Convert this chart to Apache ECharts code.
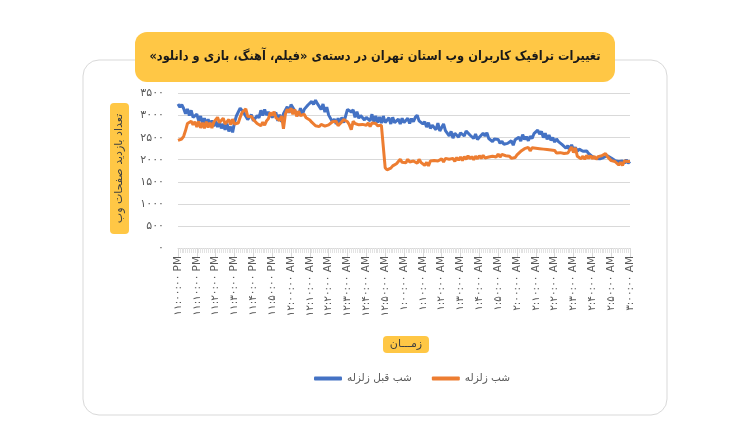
<!DOCTYPE html>
<html>
<head>
<meta charset="utf-8">
<script src="https://cdn.jsdelivr.net/npm/echarts@6/dist/echarts.min.js"></script>
<style>
html,body{margin:0;padding:0;background:#fff;}
#c{width:750px;height:430px;}
</style>
</head>
<body>
<div id="c"></div>
<script>
// ---- data ----
var seriesNames = ['شب قبل زلزله', 'شب زلزله'];
var beforeNight = [
3260,3190,3250,3160,3040,3150,3000,3120,2960,2990,
3030,2880,2990,2830,2940,2790,2920,2780,2890,2760,
2880,2740,2850,2710,2810,2680,2820,2640,2750,2620,
2840,2990,3010,3170,3190,3060,3060,2910,2930,3020,
2880,2870,3000,2950,3120,3000,3140,3010,3080,3110,
2960,2950,3070,2880,3020,2860,3040,3040,3200,3060,
3250,3240,3110,3140,3000,3170,3020,3140,3150,3240,
3250,3320,3250,3350,3270,3290,3140,3260,3080,3190,
3010,3040,2860,2920,2810,2940,2820,2960,2840,2990,
3140,3160,3080,3130,2960,3090,2940,3000,3040,2900,
2960,3000,2880,3030,2860,2990,2840,2970,2830,2990,
2840,2830,2950,2810,2960,2840,2810,2920,2810,2940,
2840,2870,2940,2820,2930,2860,2960,3010,2880,2910,
2810,2860,2740,2840,2710,2780,2820,2680,2830,2650,
2660,2810,2660,2660,2540,2640,2490,2600,2630,2510,
2610,2650,2540,2650,2670,2560,2590,2480,2580,2460,
2510,2490,2600,2540,2610,2480,2510,2410,2470,2430,
2460,2370,2420,2350,2380,2370,2340,2430,2330,2450,
2420,2510,2420,2570,2460,2520,2430,2530,2480,2590,
2570,2670,2580,2640,2500,2600,2460,2560,2440,2500,
2400,2470,2410,2430,2340,2370,2260,2320,2210,2340,
2220,2280,2190,2240,2240,2190,2180,2200,2140,2120,
2070,2060,2030,2050,2020,2030,2050,2080,2090,2090,
2040,2010,1980,1990,1960,1970,1970,1920,2000,1920,
1960
];
var quakeNight = [
2440,2460,2470,2530,2660,2820,2810,2870,2790,2860,
2740,2870,2720,2840,2710,2860,2730,2840,2720,2850,
2820,2960,2840,2830,2940,2810,2810,2910,2790,2920,
2810,2810,2830,2960,3070,3100,3150,2980,2970,2980,
2910,2930,2820,2860,2770,2850,2780,2880,2930,3070,
3000,3090,2950,2980,2890,2990,2700,3030,3140,3080,
3170,3030,3140,2980,3100,3000,3000,3030,2950,2920,
2900,2850,2820,2770,2810,2750,2800,2790,2760,2800,
2790,2790,2860,2820,2870,2770,2760,2860,2910,2870,
2860,2790,2680,2870,2820,2830,2790,2810,2800,2820,
2780,2830,2750,2830,2790,2820,2770,2810,2780,2820,
1820,1770,1810,1810,1860,1870,1910,1920,2010,1940,
1950,1930,2010,1950,1980,1970,2000,1920,2010,1940,
1920,1870,1940,1860,1970,1950,1980,1970,1970,1960,
2020,1950,2030,2010,2010,2000,2030,1960,2050,1990,
2060,1980,2070,2010,2090,2020,2070,2000,2080,2020,
2090,2030,2100,2040,2070,2060,2100,2080,2090,2060,
2130,2060,2120,2100,2090,2070,2080,2030,2050,2050,
2110,2140,2190,2190,2250,2220,2280,2200,2270,2250,
2260,2240,2250,2230,2240,2220,2230,2210,2220,2200,
2210,2150,2180,2160,2160,2140,2170,2150,2220,2290,
2160,2270,2080,2080,2020,2080,2010,2100,2030,2090,
2020,2080,2010,2070,2060,2090,2080,2140,2070,2080,
1980,1980,1960,1950,1880,1940,1870,1970,1940,1960,
1960
];
var yTicks = [0, 500, 1000, 1500, 2000, 2500, 3000, 3500];
var titleText = 'تغییرات ترافیک کاربران وب استان تهران در دسته‌ی «فیلم، آهنگ، بازی و دانلود»';
var yTitle = 'تعداد بازدید صفحات وب';
var xTitle = 'زمـــان';

// categories: one per minute from 11:00:00 PM to 3:00:00 AM
var faDigits = '۰۱۲۳۴۵۶۷۸۹';
function fa(s){ return String(s).replace(/[0-9]/g, function(d){ return faDigits[+d]; }); }
var categories = [];
for (var t = 0; t <= 240; t++) {
  var total = 23*60 + t;
  var h24 = Math.floor(total/60) % 24, m = total % 60;
  var ap = h24 >= 12 ? 'PM' : 'AM';
  var h12 = h24 % 12 || 12;
  categories.push(fa(h12 + ':' + (m < 10 ? '0' + m : m) + ':00') + ' ' + ap);
}
function rtl(s){ return '\u202B' + s + '\u202C'; }

var FONT = 'DejaVu Sans';
var chart = echarts.init(document.getElementById('c'), null, {renderer:'canvas'});
chart.setOption({
  backgroundColor: '#fff',
  animation: false,
  textStyle: {fontFamily: FONT},
  graphic: [
    {type:'rect', z:0, shape:{x:83, y:60, width:584, height:355, r:16},
     style:{fill:'#fff', stroke:'#d9d9d9', lineWidth:1}},
    {type:'rect', z:1, shape:{x:135, y:32, width:480, height:50, r:12},
     style:{fill:'#FFC745'}},
    {type:'text', z:2, x:375, y:57, scaleX:0.88,
     style:{text:rtl(titleText), fill:'#1a1a1a', font:'bold 13px "DejaVu Sans"', align:'center', verticalAlign:'middle'}},
    {type:'rect', z:1, shape:{x:110, y:103, width:19, height:131, r:4},
     style:{fill:'#FFC745'}},
    {type:'text', z:2, x:119.5, y:168.5, rotation:Math.PI/2,
     style:{text:rtl(yTitle), fill:'#404040', font:'11px "DejaVu Sans"', align:'center', verticalAlign:'middle'}},
    {type:'rect', z:1, shape:{x:383, y:336, width:46, height:17, r:4},
     style:{fill:'#FFC745'}},
    {type:'text', z:2, x:406, y:344.5,
     style:{text:rtl(xTitle), fill:'#404040', font:'11px "DejaVu Sans"', align:'center', verticalAlign:'middle'}}
  ],
  legend: {
    data: seriesNames,
    left: 309, top: 368,
    itemWidth: 28, itemHeight: 4, itemGap: 20,
    icon: 'roundRect',
    formatter: function(n){ return rtl(n); },
    textStyle: {color:'#595959', fontSize:10.5, fontFamily: FONT}
  },
  grid: {left:178, right:120, top:93.5, bottom:182, containLabel:false},
  xAxis: [{
    type:'category', data: categories, boundaryGap:false,
    axisLine:{lineStyle:{color:'#d9d9d9'}},
    axisTick:{show:true, interval:0, length:5, lineStyle:{color:'#e3e3e3'}},
    axisLabel:{interval:9, rotate:90, color:'#595959', fontSize:10.5, margin:8, fontFamily: FONT},
    splitLine:{show:false}
  },{
    type:'category', data: categories, boundaryGap:false, position:'bottom',
    axisLine:{show:false},
    axisTick:{show:true, interval:9, length:9, lineStyle:{color:'#d9d9d9'}},
    axisLabel:{show:false}, splitLine:{show:false}
  }],
  yAxis: {
    type:'value', min:0, max:3500, interval:500,
    axisLine:{show:false}, axisTick:{show:false},
    axisLabel:{color:'#595959', fontSize:11, margin:14, fontFamily: FONT,
      formatter:function(v){ return fa(v); }},
    splitLine:{lineStyle:{color:'#d9d9d9', width:1}}
  },
  series: [
    {name:seriesNames[0], type:'line', data:beforeNight, showSymbol:false, symbol:'none', sampling:null,
     lineStyle:{color:'#4472C4', width:3}, itemStyle:{color:'#4472C4'}, z:2},
    {name:seriesNames[1], type:'line', data:quakeNight, showSymbol:false, symbol:'none', sampling:null,
     lineStyle:{color:'#ED7D31', width:3}, itemStyle:{color:'#ED7D31'}, z:3}
  ]
});
</script>
</body>
</html>
